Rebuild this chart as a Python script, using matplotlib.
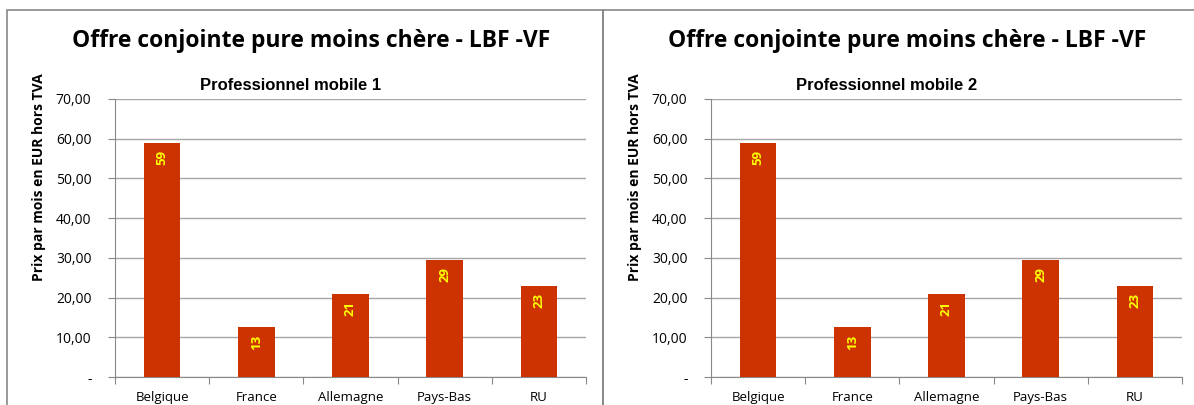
import matplotlib.pyplot as plt
from matplotlib.patches import Rectangle

countries = ["Belgique", "France", "Allemagne", "Pays-Bas", "RU"]
prix_mobile1 = [59.0, 12.55, 21.0, 29.4, 22.9]
prix_mobile2 = [59.0, 12.55, 21.0, 29.4, 22.9]
subtitles = ["Professionnel mobile 1", "Professionnel mobile 2"]
title = "Offre conjointe pure moins chère - LBF -VF"
ylabel = "Prix par mois en EUR hors TVA"
yticks = [0, 10, 20, 30, 40, 50, 60, 70]
ytick_labels = ["-", "10,00", "20,00", "30,00", "40,00", "50,00", "60,00", "70,00"]

W, H = 1194, 405
fig = plt.figure(figsize=(W / 100, H / 100), dpi=100)

bar_color = "#CC3300"
grid_color = "#A6A6A6"
body_font = ["Open Sans", "DejaVu Sans"]


def fx(px):
    return px / W


def fy(py):
    return 1 - py / H


# panel frames
for x0 in [7, 603]:
    fig.patches.append(Rectangle((fx(x0), fy(420)), fx(596), (420 - 10) / H,
                                 transform=fig.transFigure, fill=False,
                                 edgecolor="#888888", linewidth=1.2))

for i, (vals, sub) in enumerate([(prix_mobile1, subtitles[0]), (prix_mobile2, subtitles[1])]):
    off = 596 * i
    ax = fig.add_axes([fx(115 + off), fy(377), fx(471), (377 - 99) / H])
    xs = range(len(countries))
    ax.bar(xs, vals, width=0.39, color=bar_color, zorder=3)
    for x, v in zip(xs, vals):
        ax.text(x, v - 1.8, f"{v:.0f}", rotation=90, ha="center", va="top",
                color="#FFFF00", fontsize=9.5, fontweight="bold",
                family=body_font, zorder=4)
    ax.set_xlim(-0.5, len(countries) - 0.5)
    ax.set_ylim(0, 70)
    ax.set_yticks(yticks)
    ax.set_yticklabels(ytick_labels, family=body_font, fontsize=10)
    ax.set_xticks([x - 0.5 for x in range(len(countries) + 1)])
    ax.set_xticklabels([])
    ax.set_xticks(list(xs), minor=True)
    ax.set_xticklabels(countries, minor=True, family=body_font, fontsize=9.5)
    for lbl in ax.get_xticklabels(minor=True):
        lbl.set_va("baseline")
    ax.tick_params(axis="x", which="minor", length=0, pad=17)
    ax.tick_params(axis="x", which="major", length=5, color="#888888")
    ax.tick_params(axis="y", length=5, color="#888888", pad=12)
    ax.grid(axis="y", color=grid_color, linewidth=1.0, zorder=0)
    for s in ["top", "right"]:
        ax.spines[s].set_visible(False)
    for s in ["left", "bottom"]:
        ax.spines[s].set_color("#888888")
    # y label sits higher than the axes centre, as in the source chart
    fig.text(fx(39 + off), fy(177), ylabel, rotation=90, ha="center", va="center",
             family=body_font, fontsize=10, fontweight="bold")
    fig.text(fx(291 + off), fy(86), sub, ha="center", va="center",
             family=["Liberation Sans", "DejaVu Sans"], fontsize=12, fontweight="bold")
    fig.text(fx(311 + off), fy(41), title, ha="center", va="center",
             family=body_font, fontsize=16.5, fontweight="bold")

fig.savefig("out.png", dpi=100)
